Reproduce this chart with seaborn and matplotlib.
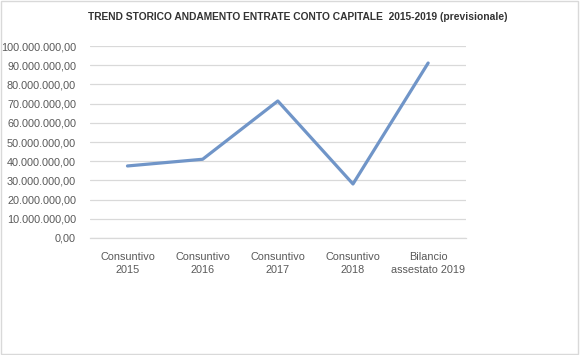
import matplotlib
matplotlib.use("Agg")
import matplotlib.pyplot as plt
from matplotlib.ticker import FuncFormatter, MultipleLocator
import seaborn as sns
import pandas as pd

# data
categorie = ["Consuntivo\n2015", "Consuntivo\n2016", "Consuntivo\n2017",
             "Consuntivo\n2018", "Bilancio\nassestato 2019"]
entrate = [37500000, 41000000, 71400000, 28100000, 91200000]

df = pd.DataFrame({"Anno": categorie, "Entrate": entrate})

sns.set_theme(style="white")
plt.rcParams["font.family"] = ["Liberation Sans", "DejaVu Sans"]

fig = plt.figure(figsize=(5.8, 3.55), dpi=100)
ax = fig.add_axes([0.155, 0.330, 0.648, 0.540])

sns.lineplot(data=df, x="Anno", y="Entrate", sort=False, color="#7095c8",
             linewidth=2.3, ax=ax)

ax.set_xlim(-0.5, len(categorie) - 0.5)
ax.set_ylim(0, 100000000)
ax.yaxis.set_major_locator(MultipleLocator(10000000))


def fmt_it(v, pos):
    s = "{:,.2f}".format(v)
    return s.replace(",", "X").replace(".", ",").replace("X", ".")


ax.yaxis.set_major_formatter(FuncFormatter(fmt_it))
ax.grid(axis="y", color="#d9d9d9", linewidth=0.9)
ax.set_axisbelow(True)
for s in ["top", "right", "left"]:
    ax.spines[s].set_visible(False)
ax.spines["bottom"].set_color("#d9d9d9")
ax.spines["bottom"].set_linewidth(0.9)
ax.tick_params(axis="both", length=0, labelsize=7.8, colors="#595959")
ax.tick_params(axis="y", pad=10)
ax.tick_params(axis="x", pad=10)
for lab in ax.get_xticklabels():
    lab.set_linespacing(1.4)
ax.set_xlabel("")
ax.set_ylabel("")

fig.text(0.514, 0.952, "TREND STORICO ANDAMENTO ENTRATE CONTO CAPITALE  2015-2019 (previsionale)",
         ha="center", va="center", fontsize=7.4, fontweight="bold", color="#333333")

# light frame around the chart area
fig.patches.append(plt.Rectangle((0.002, 0.003), 0.995, 0.993, transform=fig.transFigure,
                                 fill=False, edgecolor="#d9d9d9", linewidth=1))

fig.savefig("out.png", dpi=100, facecolor="white")
